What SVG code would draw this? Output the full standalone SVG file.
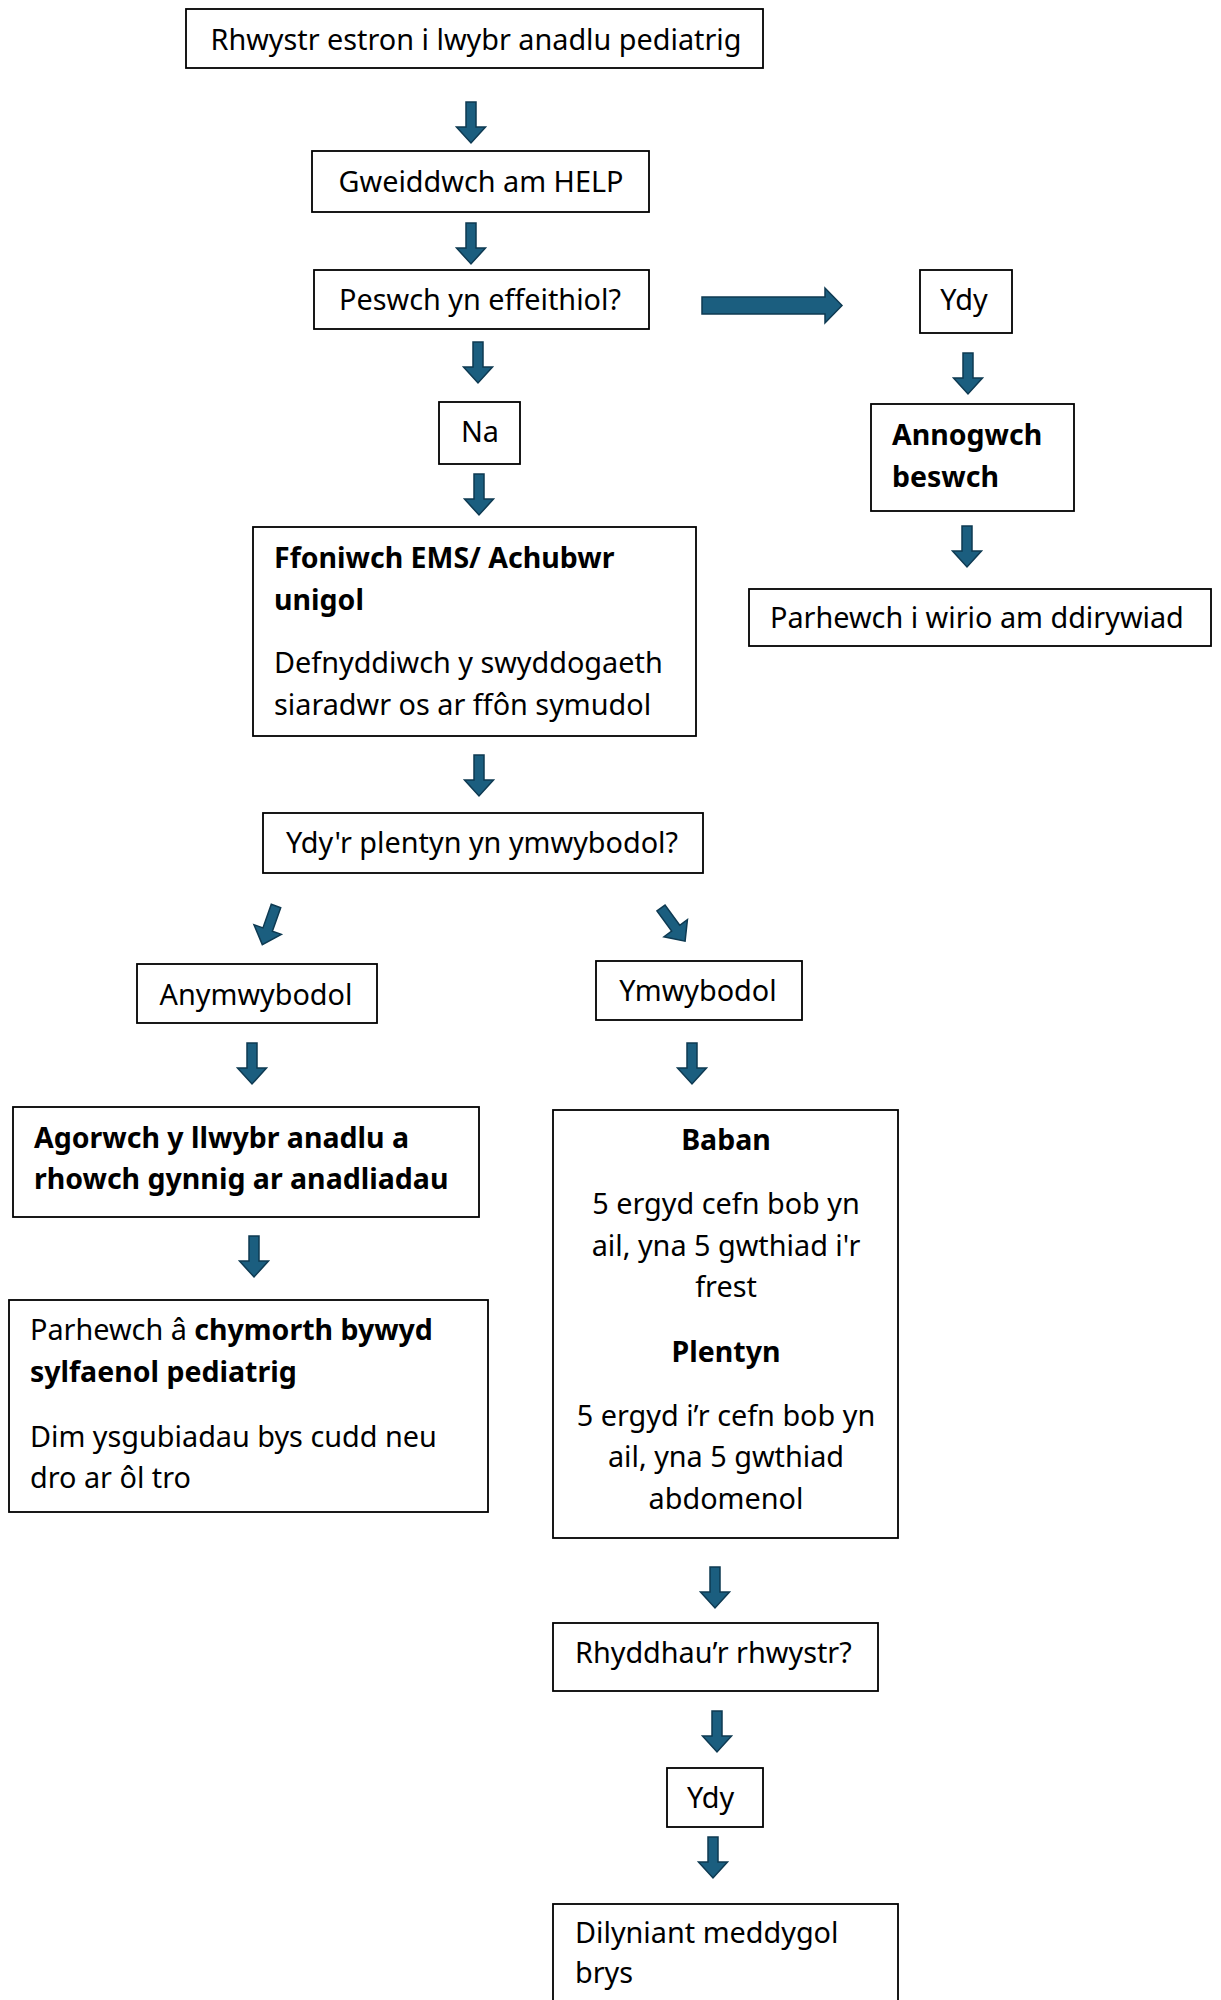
<svg xmlns="http://www.w3.org/2000/svg" width="1221" height="2000" viewBox="0 0 1221 2000">
<style>
.box{fill:#fff;stroke:#000;stroke-width:1.8}
text{font-family:"Noto Sans","Open Sans",sans-serif;font-size:28.8px;fill:#000}
.c{text-anchor:middle}
.b{font-weight:bold;font-size:28.5px}
.arr{fill:#1b5e7f;stroke:#0e3a52;stroke-width:1.5;stroke-linejoin:miter}
</style>
<defs>
<polygon id="down" class="arr" points="-5,0 5,0 5,25 14.5,25 0,41 -14.5,25 -5,25"/>
</defs>
<rect width="1221" height="2000" fill="#fff"/>
<g id="connectors">
<use href="#down" x="471" y="102"/>
<use href="#down" x="471" y="223"/>
<use href="#down" x="478" y="342"/>
<use href="#down" x="968" y="353"/>
<use href="#down" x="479" y="474"/>
<use href="#down" x="967" y="526"/>
<use href="#down" x="479" y="755"/>
<use href="#down" transform="translate(276,906) rotate(19.5)"/>
<use href="#down" transform="translate(661,908) rotate(-36)"/>
<use href="#down" x="252" y="1043"/>
<use href="#down" x="692" y="1043"/>
<use href="#down" x="254" y="1236"/>
<use href="#down" x="715" y="1567"/>
<use href="#down" x="717" y="1711"/>
<use href="#down" x="713" y="1837"/>
<polygon class="arr" points="702,297 825,297 825,288 842,305.5 825,323 825,314 702,314"/>
</g>
<g id="n1"><rect class="box" x="186" y="9" width="577" height="59"/><text class="c" x="476" y="50">Rhwystr estron i lwybr anadlu pediatrig</text></g>
<g id="n2"><rect class="box" x="312" y="151" width="337" height="61"/><text class="c" x="481" y="192">Gweiddwch am HELP</text></g>
<g id="n3"><rect class="box" x="314" y="270" width="335" height="59"/><text class="c" x="480" y="310">Peswch yn effeithiol?</text></g>
<g id="n4"><rect class="box" x="920" y="270" width="92" height="63"/><text class="c" x="964" y="310">Ydy</text></g>
<g id="n5"><rect class="box" x="439" y="402" width="81" height="62"/><text class="c" x="480" y="442">Na</text></g>
<g id="n6"><rect class="box" x="871" y="404" width="203" height="107"/><text class="b" x="892" y="445">Annogwch</text><text class="b" x="892" y="487">beswch</text></g>
<g id="n7"><rect class="box" x="749" y="589" width="462" height="57"/><text x="770" y="628">Parhewch i wirio am ddirywiad</text></g>
<g id="n8"><rect class="box" x="253" y="527" width="443" height="209"/><text class="b" x="274" y="568">Ffoniwch EMS/ Achubwr</text><text class="b" x="274" y="610">unigol</text><text x="274" y="673">Defnyddiwch y swyddogaeth</text><text x="274" y="715">siaradwr os ar ffôn symudol</text></g>
<g id="n9"><rect class="box" x="263" y="813" width="440" height="60"/><text class="c" x="482" y="853">Ydy'r plentyn yn ymwybodol?</text></g>
<g id="n10"><rect class="box" x="137" y="964" width="240" height="59"/><text class="c" x="256" y="1005">Anymwybodol</text></g>
<g id="n11"><rect class="box" x="596" y="961" width="206" height="59"/><text class="c" x="698" y="1001">Ymwybodol</text></g>
<g id="n12"><rect class="box" x="13" y="1107" width="466" height="110"/><text class="b" x="34" y="1148">Agorwch y llwybr anadlu a</text><text class="b" x="34" y="1189">rhowch gynnig ar anadliadau</text></g>
<g id="n13"><rect class="box" x="9" y="1300" width="479" height="212"/><text x="30" y="1340">Parhewch â <tspan class="b">chymorth bywyd</tspan></text><text class="b" x="30" y="1382">sylfaenol pediatrig</text><text x="30" y="1447">Dim ysgubiadau bys cudd neu</text><text x="30" y="1488">dro ar ôl tro</text></g>
<g id="n14"><rect class="box" x="553" y="1110" width="345" height="428"/><text class="c b" x="726" y="1150">Baban</text><text class="c" x="726" y="1214">5 ergyd cefn bob yn</text><text class="c" x="726" y="1256">ail, yna 5 gwthiad i'r</text><text class="c" x="726" y="1297">frest</text><text class="c b" x="726" y="1362">Plentyn</text><text class="c" x="726" y="1426">5 ergyd i’r cefn bob yn</text><text class="c" x="726" y="1467">ail, yna 5 gwthiad</text><text class="c" x="726" y="1509">abdomenol</text></g>
<g id="n15"><rect class="box" x="553" y="1623" width="325" height="68"/><text x="575" y="1663">Rhyddhau’r rhwystr?</text></g>
<g id="n16"><rect class="box" x="667" y="1768" width="96" height="59"/><text x="687" y="1808">Ydy</text></g>
<g id="n17"><rect class="box" x="553" y="1904" width="345" height="110"/><text x="575" y="1943">Dilyniant meddygol</text><text x="575" y="1983">brys</text></g>
</svg>
